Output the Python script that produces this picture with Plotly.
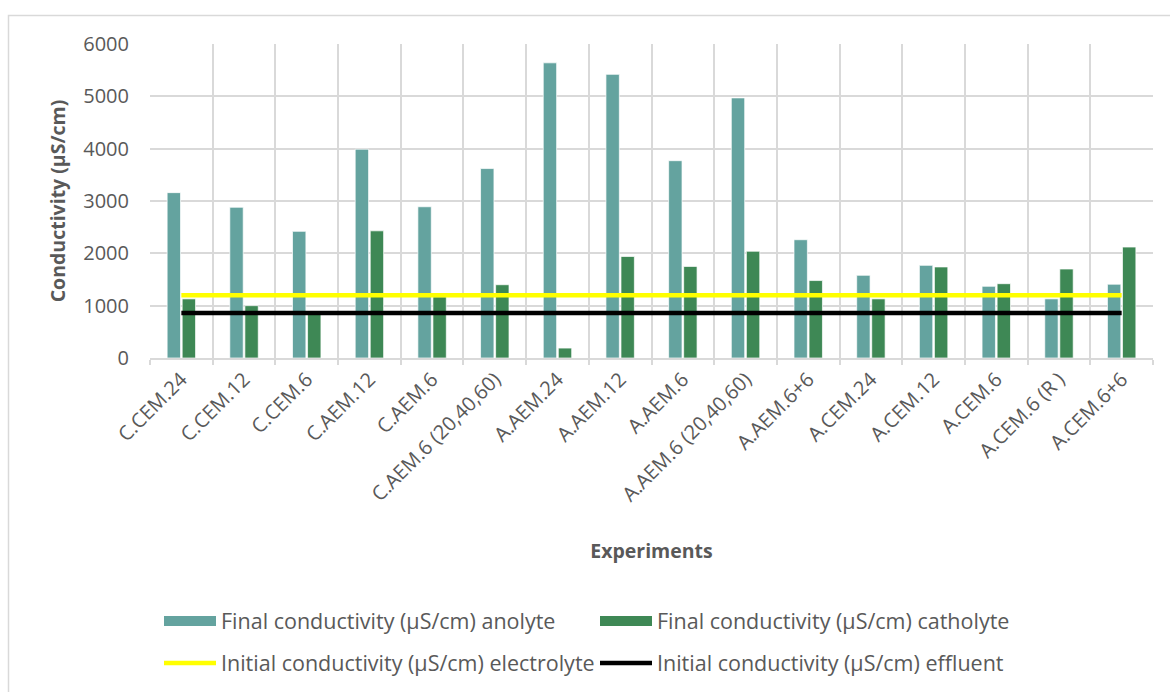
import plotly.graph_objects as go

# Experiment labels along the category axis
experiments = [
    "C.CEM.24", "C.CEM.12", "C.CEM.6", "C.AEM.12", "C.AEM.6",
    "C.AEM.6 (20,40,60)", "A.AEM.24", "A.AEM.12", "A.AEM.6",
    "A.AEM.6 (20,40,60)", "A.AEM.6+6", "A.CEM.24", "A.CEM.12",
    "A.CEM.6", "A.CEM.6 (R )", "A.CEM.6+6",
]

# Final conductivity readings (µS/cm)
final_anolyte = [3160, 2880, 2420, 3990, 2890, 3620, 5640, 5420, 3770,
                 4970, 2260, 1580, 1770, 1370, 1130, 1410]
final_catholyte = [1130, 1000, 860, 2430, 1170, 1400, 190, 1940, 1750,
                   2040, 1480, 1130, 1740, 1420, 1700, 2120]

# Initial conductivity reference levels (µS/cm)
initial_electrolyte = [1200] * len(experiments)
initial_effluent = [860] * len(experiments)

y_ticks = [0, 1000, 2000, 3000, 4000, 5000, 6000]

FONT = "Open Sans"
TEXT = "#595959"
GRID = "#D9D9D9"
ANOLYTE = "#64A39F"
CATHOLYTE = "#3E8855"
BAR_EDGE = "rgba(255,255,255,0.7)"

# Plot-area geometry in pixels (used to place the frame and legends)
W, H = 1170, 692
L_M, R_M, T_M, B_M = 150, 17, 44, 334
PW, PH = W - L_M - R_M, H - T_M - B_M


def px_x(x):
    return (x - L_M) / PW


def px_y(y):
    return (H - B_M - y) / PH


fig = go.Figure()
fig.add_trace(go.Bar(
    x=experiments, y=final_anolyte, name="Final conductivity (µS/cm) anolyte",
    marker=dict(color=ANOLYTE, line=dict(color=BAR_EDGE, width=1)),
    showlegend=False,
))
fig.add_trace(go.Bar(
    x=experiments, y=final_catholyte, name="Final conductivity (µS/cm) catholyte",
    marker=dict(color=CATHOLYTE, line=dict(color=BAR_EDGE, width=1)),
    showlegend=False,
))
fig.add_trace(go.Scatter(
    x=experiments, y=initial_electrolyte, mode="lines",
    name="Initial conductivity (µS/cm) electrolyte",
    line=dict(color="#FFFF00", width=4.5), legend="legend2",
))
fig.add_trace(go.Scatter(
    x=experiments, y=initial_effluent, mode="lines",
    name="Initial conductivity (µS/cm) effluent",
    line=dict(color="#000000", width=4.5), legend="legend2",
))

# Wide rectangular swatches for the bar series in the legend
for name, colour in [("Final conductivity (µS/cm) anolyte", ANOLYTE),
                     ("Final conductivity (µS/cm) catholyte", CATHOLYTE)]:
    fig.add_trace(go.Scatter(
        x=[None], y=[None], mode="lines", name=name,
        line=dict(color=colour, width=15), legend="legend",
        hoverinfo="skip",
    ))

legend_common = dict(
    orientation="h", xanchor="left", yanchor="middle",
    entrywidth=369, entrywidthmode="pixels", itemwidth=52,
    font=dict(family=FONT, size=21.5, color=TEXT),
    bgcolor="rgba(0,0,0,0)", traceorder="normal",
)

fig.update_layout(
    width=W, height=H,
    margin=dict(l=L_M, r=R_M, t=T_M, b=B_M, autoexpand=False),
    paper_bgcolor="white", plot_bgcolor="white",
    font=dict(family=FONT, color=TEXT),
    barmode="group", bargap=0.52, bargroupgap=0.11,
    showlegend=True,
    legend=dict(x=px_x(159), y=px_y(621), **legend_common),
    legend2=dict(x=px_x(159), y=px_y(663), **legend_common),
    shapes=[dict(
        type="rect", xref="paper", yref="paper",
        x0=px_x(8.5), x1=px_x(W + 40), y0=px_y(H + 40), y1=px_y(15.5),
        line=dict(color=GRID, width=1.5), fillcolor="rgba(0,0,0,0)", layer="below",
    )],
)

fig.update_xaxes(
    type="category", tickson="boundaries", automargin=False,
    showgrid=True, gridcolor=GRID, gridwidth=1.5,
    ticks="outside", ticklen=5, tickcolor=GRID, tickwidth=1.5,
    showline=True, linecolor=GRID, linewidth=1.5,
    tickangle=-45, tickfont=dict(family=FONT, size=20, color=TEXT),
    title=dict(text="<b>Experiments</b>", font=dict(family=FONT, size=19.5, color=TEXT), standoff=38),
)
fig.update_yaxes(
    range=[0, 6000], tickvals=y_ticks, automargin=False,
    showgrid=True, gridcolor=GRID, gridwidth=1.5,
    zeroline=False, showline=False, ticks="",
    ticklabelstandoff=20,
    tickfont=dict(family=FONT, size=20, color=TEXT),
    title=dict(text="<b>Conductivity (µS/cm)</b>", font=dict(family=FONT, size=19.5, color=TEXT), standoff=12),
)

fig.write_html("out.html")
